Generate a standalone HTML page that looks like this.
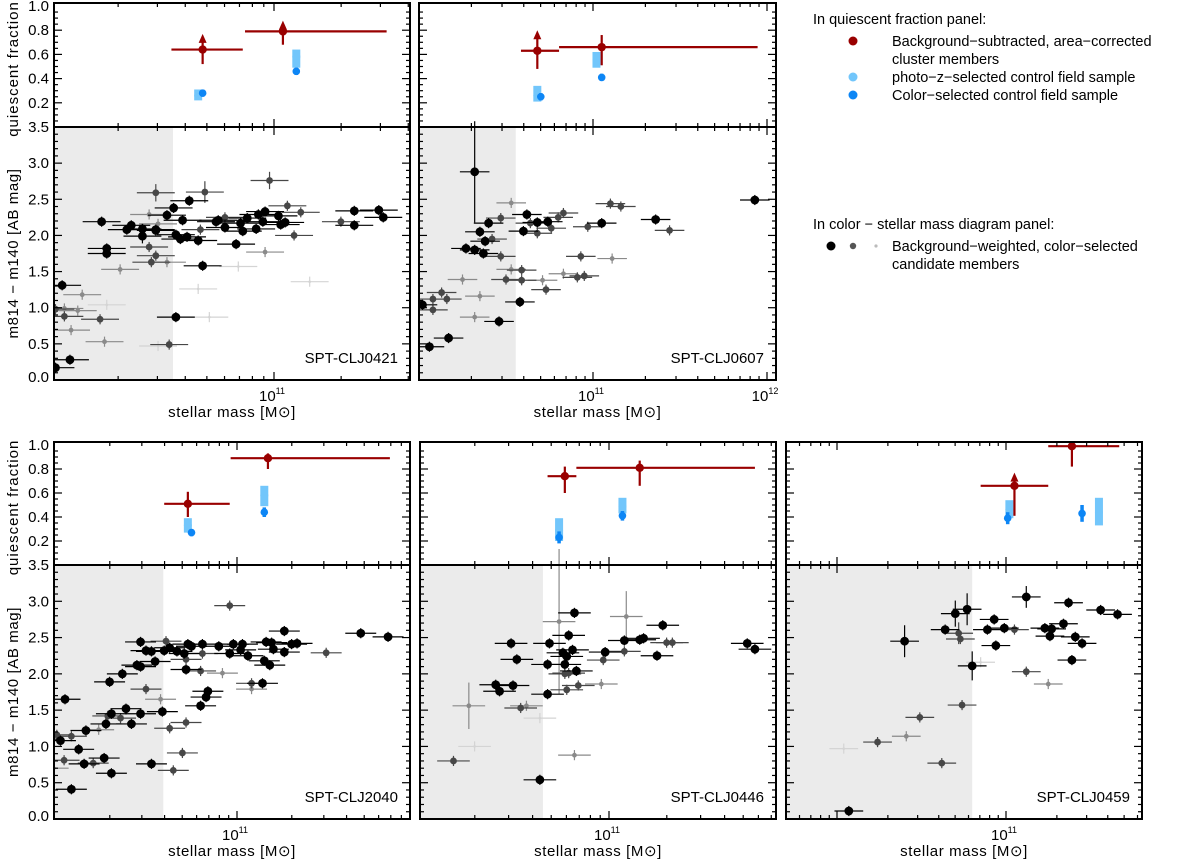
<!DOCTYPE html>
<html><head><meta charset="utf-8"><style>
body{margin:0;background:#fff;}
svg{display:block;font-family:"Liberation Sans",sans-serif;}
</style></head><body>
<svg id="fig" width="1200" height="863" viewBox="0 0 1200 863" xmlns="http://www.w3.org/2000/svg">
<g font-size="14.5" fill="#000">
<text x="813" y="24">In quiescent fraction panel:</text>
<circle cx="853" cy="41" r="4.5" fill="#990000"/>
<text x="892" y="46">Background−subtracted, area−corrected</text>
<text x="892" y="64">cluster members</text>
<circle cx="853" cy="77" r="4.5" fill="#72c6fb"/>
<text x="892" y="82">photo−z−selected control field sample</text>
<circle cx="853" cy="95" r="4.5" fill="#0d86f5"/>
<text x="892" y="100">Color−selected control field sample</text>
<text x="813" y="229">In color − stellar mass diagram panel:</text>
<circle cx="831" cy="246" r="4.5" fill="#000"/>
<circle cx="853" cy="246" r="3.2" fill="#555"/>
<circle cx="876" cy="246" r="1.6" fill="#bbb"/>
<text x="892" y="251">Background−weighted, color−selected</text>
<text x="892" y="269">candidate members</text>
</g>
</svg>
<script>
// ---- data: each point [log10 mass, color, weight level, (optional y-error)]
const pts0421 = [[10.227,2.19,3],[10.25,1.82,3],[10.25,1.75,3],[10.34,2.08,3],[10.36,2.14,3],[10.41,2.09,3],[10.41,1.99,3,0.1],[10.44,2.29,1],[10.44,1.84,2],[10.45,1.63,2],[10.47,2.08,3],[10.47,2.07,3],[10.47,2.59,2,0.12],[10.47,1.72,2],[10.48,2.16,1],[10.52,2.28,3],[10.52,1.63,1],[10.55,2.38,3],[10.56,2.01,3],[10.58,1.95,3],[10.61,1.98,3],[10.59,2.21,3],[10.62,2.48,3],[10.66,1.93,3],[10.67,2.08,2],[10.68,1.58,3],[10.69,2.60,2,0.15],[10.74,2.19,3],[10.75,2.21,3],[10.78,2.11,3],[10.78,2.25,2],[10.83,1.88,3],[10.85,2.17,3],[10.86,2.06,3],[10.88,2.24,3],[10.92,2.09,3],[10.93,2.29,3],[10.95,2.19,3],[10.96,2.33,3],[10.98,2.76,2,0.12],[10.96,1.77,1],[11.02,2.27,3],[11.03,2.15,3],[11.05,2.18,3],[11.06,2.41,2],[11.09,2.00,2],[11.12,2.32,2],[11.30,2.19,2],[11.36,2.14,3],[11.36,2.34,3],[11.47,2.35,3],[11.49,2.25,3],[10.05,1.31,3],[10.02,0.98,2],[10.06,0.99,1],[10.06,0.88,2],[10.14,1.18,1],[10.12,0.96,1],[10.09,0.69,1],[10.22,0.84,2],[10.24,0.53,1],[10.085,0.28,3],[10.02,0.17,3],[10.31,1.53,1],[10.56,0.87,3],[10.53,0.49,2],[10.48,0.47,0],[10.84,1.57,0],[10.66,1.26,0],[11.16,1.36,0],[10.25,1.04,0],[10.71,0.87,0]];
const pts0607 = [[10.32,2.88,3,0.7],[10.27,1.82,3],[10.32,1.80,3],[10.35,2.05,3],[10.37,1.75,3],[10.38,1.92,3],[10.40,2.17,3],[10.42,1.95,2],[10.47,2.24,2],[10.47,1.71,2],[10.53,2.45,1],[10.53,1.53,1],[10.62,2.29,3],[10.60,2.06,3],[10.68,2.18,3],[10.68,2.03,2],[10.74,2.19,3],[10.76,2.10,2],[10.64,2.17,2],[10.80,2.25,2],[10.83,2.31,2],[10.59,1.52,2],[10.59,1.38,2],[10.50,1.39,2],[10.71,1.38,1],[10.58,1.08,3],[10.73,1.25,2],[10.83,1.47,1],[10.91,1.42,2],[10.95,1.44,2],[10.93,1.71,2],[11.11,1.68,1],[10.97,2.12,2],[11.05,2.17,3],[11.10,2.44,2],[11.16,2.40,2],[11.36,2.22,3],[11.44,2.07,2],[11.93,2.49,3],[10.25,1.39,1],[10.13,1.21,2],[10.08,1.12,2],[10.16,1.12,2],[10.02,1.04,3],[10.08,0.97,2],[10.35,1.16,1],[10.32,0.87,1],[10.46,0.81,3],[10.17,0.58,3],[10.06,0.46,3]];
const pts2040 = [[10.055,1.65,3],[10.01,1.16,2],[10.03,1.08,3],[10.09,1.14,2],[10.13,0.96,3],[10.17,1.22,3],[10.16,0.76,3],[10.21,0.77,2],[10.05,0.81,2],[10.09,0.41,3],[9.99,0.70,1],[10.24,1.23,1],[10.28,1.31,3],[10.29,1.42,2],[10.31,1.45,3],[10.36,1.39,2],[10.39,1.52,3],[10.42,1.31,3],[10.47,1.45,3],[10.27,0.84,3],[10.31,0.63,3],[10.53,0.76,3],[10.50,1.79,2],[10.59,1.48,3],[10.30,1.89,3],[10.37,2.0,3],[10.45,2.12,3],[10.47,2.10,3],[10.47,2.44,3],[10.55,2.17,3],[10.50,2.32,3],[10.53,2.31,3],[10.60,2.32,3],[10.61,2.45,2],[10.63,2.36,3],[10.67,2.31,3],[10.71,2.28,3],[10.72,2.20,2],[10.72,2.06,3],[10.73,2.41,3],[10.75,2.38,3],[10.80,2.04,2],[10.81,2.28,2],[10.81,2.41,3],[10.90,2.38,3],[10.92,2.01,1],[10.96,2.94,2],[10.96,2.28,3],[10.98,2.41,3],[11.02,2.33,3],[11.03,2.41,3],[11.06,2.25,3],[11.08,1.87,2],[11.08,1.79,1],[11.14,1.87,3],[11.15,2.18,3],[11.18,2.12,3],[11.16,2.44,3],[11.19,2.43,3],[11.20,2.34,3],[11.26,2.59,3],[11.26,2.30,3],[11.30,2.41,3],[11.33,2.42,3],[11.49,2.29,2],[11.68,2.56,3],[11.83,2.51,3],[10.63,1.25,2],[10.72,1.33,2],[10.70,0.91,2],[10.65,0.67,2],[10.83,1.68,3],[10.84,1.76,3],[10.80,1.56,3],[10.58,1.65,1]];
const pts0446 = [[10.19,0.80,2],[10.27,1.56,1,0.32],[10.30,1.0,0],[10.54,1.53,2],[10.57,1.56,1],[10.64,1.39,0],[10.49,2.42,3],[10.52,2.20,3],[10.41,1.85,3],[10.43,1.76,3],[10.50,1.84,3],[10.69,2.42,3],[10.68,2.13,3],[10.68,1.72,3],[10.64,0.54,3],[10.74,2.72,1,1.0],[10.79,2.53,3],[10.82,2.84,3],[10.76,2.29,3],[10.78,2.24,3],[10.81,2.33,3],[10.77,2.13,3],[10.77,2.00,2],[10.79,2.01,2],[10.83,2.04,3],[10.78,1.78,2],[10.84,1.84,2],[10.82,0.88,1],[10.96,1.86,1],[10.97,2.19,2],[10.98,2.30,3],[11.08,2.46,3],[11.08,2.31,2],[11.09,2.79,1,0.35],[11.16,2.47,3],[11.18,2.49,3],[11.25,2.25,3],[11.28,2.67,3],[11.30,2.43,2],[11.33,2.43,2],[11.72,2.42,3],[11.76,2.34,3]];
const pts0459 = [[10.07,0.11,3],[10.62,0.77,2],[10.24,1.06,2],[10.41,1.14,1],[10.04,0.97,0],[10.49,1.40,2],[10.74,1.57,2],[10.80,2.11,3,0.2],[10.85,2.16,0],[10.40,2.45,3,0.22],[10.64,2.61,3],[10.70,2.83,3,0.18],[10.77,2.89,3,0.22],[10.72,2.56,2,0.15],[10.73,2.48,2],[10.89,2.61,3],[10.93,2.75,3],[10.94,2.39,3],[10.99,2.63,3],[11.05,2.61,2],[11.12,3.06,3,0.15],[11.12,2.03,2],[11.25,1.86,1],[11.23,2.63,3],[11.27,2.62,3],[11.26,2.52,3],[11.34,2.69,3],[11.37,2.98,3],[11.39,2.19,3],[11.41,2.51,3],[11.45,2.42,3],[11.56,2.88,3],[11.66,2.82,3]];
// quiescent fraction: cluster [mass, value, massLo, massHi, errLo, errHi, lowerLimit?]
const qfCluster0421 = [[10.68,0.64,10.54,10.86,0.52,0.72,1],[11.04,0.79,10.87,11.505,0.68,0.83,1]];
const qfCluster0607 = [[10.68,0.63,10.586,10.805,0.48,0.75,1],[11.05,0.66,10.805,11.946,0.51,0.76,0]];
const qfCluster2040 = [[10.73,0.51,10.60,10.96,0.40,0.61,0],[11.17,0.89,10.965,11.84,0.80,0.93,0]];
const qfCluster0446 = [[10.77,0.74,10.68,10.83,0.60,0.82,0],[11.16,0.81,10.83,11.76,0.66,0.87,0]];
const qfCluster0459 = [[11.05,0.66,10.85,11.25,0.41,0.72,1],[11.39,0.99,11.25,11.67,0.82,1.05,0]];
// photo-z control field [mass, value, lo, hi]
const qfPhotoz0421 = [[10.66,0.26,0.22,0.31],[11.10,0.58,0.49,0.64]];
const qfPhotoz0607 = [[10.68,0.26,0.21,0.34],[11.02,0.56,0.49,0.62]];
const qfPhotoz2040 = [[10.73,0.33,0.27,0.39],[11.15,0.58,0.49,0.66]];
const qfPhotoz0446 = [[10.74,0.29,0.20,0.39],[11.07,0.49,0.43,0.56]];
const qfPhotoz0459 = [[11.02,0.46,0.39,0.54],[11.55,0.44,0.33,0.56]];
// color-selected control field [mass, value, err]
const qfColor0421 = [[10.68,0.28,0.03],[11.10,0.46,0.03]];
const qfColor0607 = [[10.70,0.25,0.03],[11.05,0.41,0.03]];
const qfColor2040 = [[10.75,0.27,0.03],[11.15,0.44,0.04]];
const qfColor0446 = [[10.74,0.23,0.05],[11.07,0.41,0.04]];
const qfColor0459 = [[11.01,0.39,0.05],[11.45,0.43,0.07]];
const clusterNames = ["SPT-CLJ0421","SPT-CLJ0607","SPT-CLJ2040","SPT-CLJ0446","SPT-CLJ0459"];
const massLimits = [10.547,10.556,10.595,10.656,10.80];
const yTicksQF = [0.2,0.4,0.6,0.8,1.0];
const yTicksColor = [0.0,0.5,1.0,1.5,2.0,2.5,3.0,3.5];

const NS="http://www.w3.org/2000/svg";
const svg=document.getElementById('fig');
function mk(tag,attrs,parent){const e=document.createElementNS(NS,tag);for(const k in attrs)e.setAttribute(k,attrs[k]);(parent||svg).appendChild(e);return e;}

const panels=[
 {pts:pts0421,cl:qfCluster0421,pz:qfPhotoz0421,cs:qfColor0421,x0:54,x1:410,y0:3,ym:127,y1:380,xc:274,dec:223,left:true,majors:[11]},
 {pts:pts0607,cl:qfCluster0607,pz:qfPhotoz0607,cs:qfColor0607,x0:419,x1:776,y0:3,ym:127,y1:380,xc:593,dec:174,left:false,majors:[11,12]},
 {pts:pts2040,cl:qfCluster2040,pz:qfPhotoz2040,cs:qfColor2040,x0:54,x1:410,y0:442,ym:565,y1:819,xc:237,dec:182,left:true,majors:[11]},
 {pts:pts0446,cl:qfCluster0446,pz:qfPhotoz0446,cs:qfColor0446,x0:420,x1:776,y0:442,ym:565,y1:819,xc:609,dec:192,left:false,majors:[11]},
 {pts:pts0459,cl:qfCluster0459,pz:qfPhotoz0459,cs:qfColor0459,x0:786,x1:1142,y0:442,ym:565,y1:819,xc:1006,dec:169,left:false,majors:[11]}
];
const wCol=['#d4d4d4','#8a8a8a','#474747','#000'];
const wR=[1.3,2.4,3.4,4.4];
const RED='#990000',LB='#72c6fb',DB='#0d86f5';

panels.forEach((P,i)=>{
 const g=mk('g',{});
 
 
 const X=m=>P.xc+(m-11)*P.dec;
 const Yq=v=>P.ym-v*(P.ym-P.y0-3)/1.0;
 const Yc=c=>P.y1-c*(P.y1-P.ym)/3.5;
 const clipId='clip'+i;
 const cp=mk('clipPath',{id:clipId},g);
 mk('rect',{x:P.x0,y:P.y0,width:P.x1-P.x0,height:P.y1-P.y0},cp);
 const plot=mk('g',{'clip-path':'url(#'+clipId+')'},g);
 const sh=mk('rect',{x:P.x0,y:P.ym,width:X(massLimits[i])-P.x0,height:P.y1-P.ym,fill:'#ebebeb'},plot);
 
 
 const sorted=P.pts.slice().sort((a,b)=>a[2]-b[2]);
 sorted.forEach(p=>{
  const [m,c,w,ey]=p;const col=wCol[w];const cx=X(m),cy=Yc(c);
  const ex=0.085*P.dec, eyp=(ey||0.07)*(P.y1-P.ym)/3.5;
  const pg=mk('g',{stroke:col,'stroke-width':1.2},plot);
  
  
  mk('line',{x1:cx-ex,x2:cx+ex,y1:cy,y2:cy},pg);
  mk('line',{x1:cx,x2:cx,y1:cy-eyp,y2:cy+eyp},pg);
  mk('circle',{cx:cx,cy:cy,r:wR[w],fill:col,stroke:'none'},pg);
 });
 P.pz.forEach(p=>{const [m,v,lo,hi]=p;
  const r=mk('rect',{x:X(m)-4,y:Yq(hi),width:8,height:Yq(lo)-Yq(hi),fill:LB},plot);
  
  
  mk('circle',{cx:X(m),cy:Yq(v),r:4,fill:LB},plot);
 });
 P.cs.forEach(p=>{const [m,v,e]=p;
  const l=mk('line',{x1:X(m),x2:X(m),y1:Yq(v+e),y2:Yq(v-e),stroke:DB,'stroke-width':3.5},plot);
  
  
  mk('circle',{cx:X(m),cy:Yq(v),r:3.8,fill:DB},plot);
 });
 P.cl.forEach(p=>{const [m,v,mlo,mhi,lo,hi,lim]=p;
  const cg=mk('g',{stroke:RED,'stroke-width':2.2,fill:RED},plot);
  
  
  mk('line',{x1:X(mlo),x2:X(mhi),y1:Yq(v),y2:Yq(v)},cg);
  mk('line',{x1:X(m),x2:X(m),y1:Yq(hi),y2:Yq(lo)},cg);
  mk('circle',{cx:X(m),cy:Yq(v),r:4.2,stroke:'none'},cg);
  if(lim){const ty=Yq(hi)-4;mk('polygon',{points:`${X(m)-4},${ty+7} ${X(m)+4},${ty+7} ${X(m)},${ty-2}`,stroke:'none'},cg);}
 });
 const ax=mk('g',{stroke:'#000',fill:'none'},g);
 
 
 mk('rect',{x:P.x0,y:P.y0,width:P.x1-P.x0,height:P.y1-P.y0,'stroke-width':2},ax);
 mk('line',{x1:P.x0,x2:P.x1,y1:P.ym,y2:P.ym,'stroke-width':2},ax);
 for(let k=1;k<20;k++){const v=k*0.05;const y=Yq(v);if(y<P.y0+1)continue;const L=(k%4===0)?8:4;
  mk('line',{x1:P.x0,x2:P.x0+L,y1:y,y2:y,'stroke-width':1.2},ax);mk('line',{x1:P.x1,x2:P.x1-L,y1:y,y2:y,'stroke-width':1.2},ax);}
 for(let k=1;k<35;k++){const y=Yc(k*0.1);const L=(k%5===0)?8:4;
  mk('line',{x1:P.x0,x2:P.x0+L,y1:y,y2:y,'stroke-width':1.2},ax);mk('line',{x1:P.x1,x2:P.x1-L,y1:y,y2:y,'stroke-width':1.2},ax);}
 for(let d=9;d<=12;d++)for(let k=1;k<=9;k++){const m=d+Math.log10(k);const x=X(m);if(x<=P.x0+1||x>=P.x1-1)continue;const L=k===1?8:4;
  [P.y0,P.ym].forEach(yy=>mk('line',{x1:x,x2:x,y1:yy,y2:yy+L,'stroke-width':1.2},ax));
  [P.ym,P.y1].forEach(yy=>mk('line',{x1:x,x2:x,y1:yy,y2:yy-L,'stroke-width':1.2},ax));}
 P.majors.forEach(e=>{const t=mk('text',{x:X(e)-2,y:P.y1+21,'font-size':15,'text-anchor':'middle'},g);t.textContent='10';
  
  const s=mk('tspan',{dy:-7,'font-size':9},t);s.textContent=String(e);});
 const xl=mk('text',{x:(P.x0+P.x1)/2,y:P.y1+37,'font-size':15,'text-anchor':'middle','letter-spacing':'0.6'},g);
 xl.textContent='stellar mass [M⊙]';
 
 const nm=mk('text',{x:P.x1-12,y:P.y1-17,'font-size':15,'text-anchor':'end'},g);nm.textContent=clusterNames[i];
 
 if(P.left){
  yTicksQF.forEach(v=>{const t=mk('text',{x:P.x0-5,y:Yq(v)+5,'font-size':15,'text-anchor':'end'},g);t.textContent=v.toFixed(1);
   });
  yTicksColor.forEach(v=>{const t=mk('text',{x:P.x0-5,y:Math.min(Yc(v)+5,P.y1+2),'font-size':15,'text-anchor':'end'},g);t.textContent=v.toFixed(1);
   });
  const cy1=(P.y0+P.ym)/2;const t1=mk('text',{x:0,y:0,'font-size':15,'text-anchor':'middle','letter-spacing':'1',transform:`translate(18,${cy1+4}) rotate(-90)`},g);
  t1.textContent='quiescent fraction';
  const cy2=(P.ym+P.y1)/2;const t2=mk('text',{x:0,y:0,'font-size':15,'text-anchor':'middle','letter-spacing':'0.6',transform:`translate(18,${cy2}) rotate(-90)`},g);
  t2.textContent='m814 − m140 [AB mag]';
 }
});
</script>
</body></html>
